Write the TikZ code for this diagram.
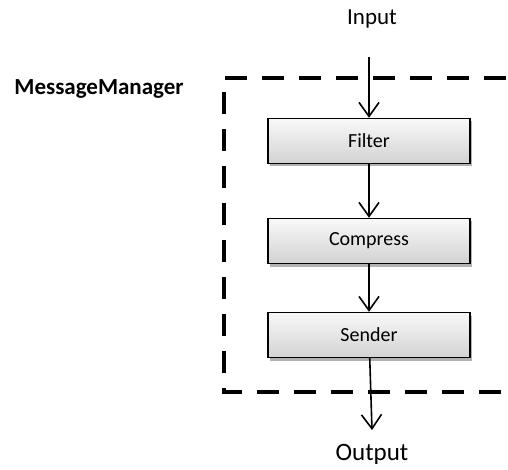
\documentclass[tikz,border=0pt]{standalone}
\usepackage{fontspec}
\setmainfont{Carlito}
\usetikzlibrary{arrows.meta,shadows}
\tikzset{
  stage/.style={draw, line width=1.4pt, minimum width=202pt, minimum height=45pt,
    top color=gray!5, bottom color=gray!35, font=\fontsize{20}{24}\selectfont,
    drop shadow={shadow xshift=2pt, shadow yshift=-3pt, fill=gray!60, opacity=1}},
  flow/.style={-{Straight Barb[length=14pt,width=20pt]}, line width=1.6pt},
  border/.style={line width=4pt, dash pattern=on 22pt off 15pt}
}
\begin{document}
\begin{tikzpicture}[x=1pt, y=-1pt]
      \useasboundingbox (0,0) rectangle (508,470);
      % enclosing manager
      \begin{scope}
        \clip (0,0) rectangle (508,470);
        \draw[border] (506,78) -- (224,78) -- (224,392) -- (506,392);
      \end{scope}
      \node[font=\bfseries\fontsize{23}{27}\selectfont] (mgr) at (99,89) {MessageManager};
      % stages
      \node[font=\fontsize{23}{27}\selectfont] (in) at (372,19) {Input};
      \node[stage] (filter) at (369,141) {Filter};
      \node[stage] (compress) at (369,241) {Compress};
      \node[stage] (sender) at (369,335) {Sender};
      \node[font=\fontsize{25}{29}\selectfont] (out) at (372,454) {Output};
      \coordinate (in0) at (369,57);
      \coordinate (out0) at (372,430);
      \draw[flow] (in0) -- (filter);
      \draw[flow] (filter) -- (compress);
      \draw[flow] (compress) -- (sender);
      \draw[flow] (sender) -- (out0);
    \end{tikzpicture}
\end{document}
